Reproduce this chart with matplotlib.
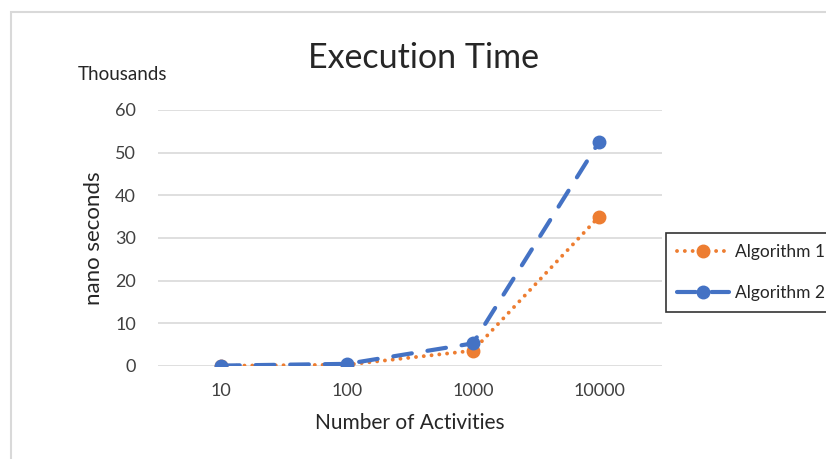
import matplotlib.pyplot as plt
from matplotlib.patches import Rectangle
import numpy as np

plt.rcParams['font.family'] = ['Lato', 'DejaVu Sans']

# Data (values in thousands of nanoseconds)
activities = ["10", "100", "1000", "10000"]
algorithm1 = [0.05, 0.3, 3.6, 35.0]
algorithm2 = [0.1, 0.5, 5.3, 52.5]

ORANGE = "#ED7D31"
BLUE = "#4472C4"

fig = plt.figure(figsize=(8.26, 4.59), dpi=100)
ax = fig.add_axes([158 / 826, 93 / 459, 504 / 826, 256 / 459])

x = np.arange(len(activities))
ax.plot(x, algorithm1, color=ORANGE, lw=2.8, linestyle=(0, (0.01, 2.0)),
        dash_capstyle="round", marker="o", markersize=9, label="Algorithm 1", zorder=3)
ax.plot(x, algorithm2, color=BLUE, lw=3.0, linestyle=(0, (4.5, 3.8)),
        dash_capstyle="round", marker="o", markersize=9, label="Algorithm 2", zorder=4)

ax.set_xlim(-0.5, len(activities) - 0.5)
ax.set_ylim(0, 60)
ax.set_yticks(range(0, 61, 10))
ax.set_xticks(x)
ax.set_xticklabels(activities)
ax.grid(axis="y", color="#D9D9D9", lw=1.2)
ax.set_axisbelow(True)
for s in ["top", "right", "left", "bottom"]:
    ax.spines[s].set_visible(False)
ax.tick_params(length=0, labelsize=13, labelcolor="#404040")
ax.tick_params(axis="y", pad=16)
ax.tick_params(axis="x", pad=12)

ax.set_xlabel("Number of Activities", fontsize=15, color="#262626", labelpad=10)
ax.set_ylabel("nano seconds", fontsize=16, color="#262626", labelpad=8)
fig.text(78 / 826, 1 - 74 / 459, "Thousands", fontsize=13.5, color="#262626", va="center")
fig.text(424 / 826, 1 - 58 / 459, "Execution Time", fontsize=24.5, color="#262626",
         ha="center", va="center")

leg = fig.legend(loc="upper left", bbox_to_anchor=(666 / 826, 1 - 233 / 459),
                 fontsize=12.5, frameon=True, fancybox=False, edgecolor="black",
                 handlelength=3.0, labelspacing=1.4, borderpad=0.65, handletextpad=0.35,
                 borderaxespad=0)
leg.get_frame().set_linewidth(1.2)
for t in leg.get_texts():
    t.set_color("#262626")

fig.add_artist(Rectangle((11 / 826, -0.1), 1.2, (459 - 12) / 459 + 0.1, fill=False,
                         edgecolor="#D9D9D9", lw=1.5, transform=fig.transFigure))

fig.savefig("out.png", dpi=100)
